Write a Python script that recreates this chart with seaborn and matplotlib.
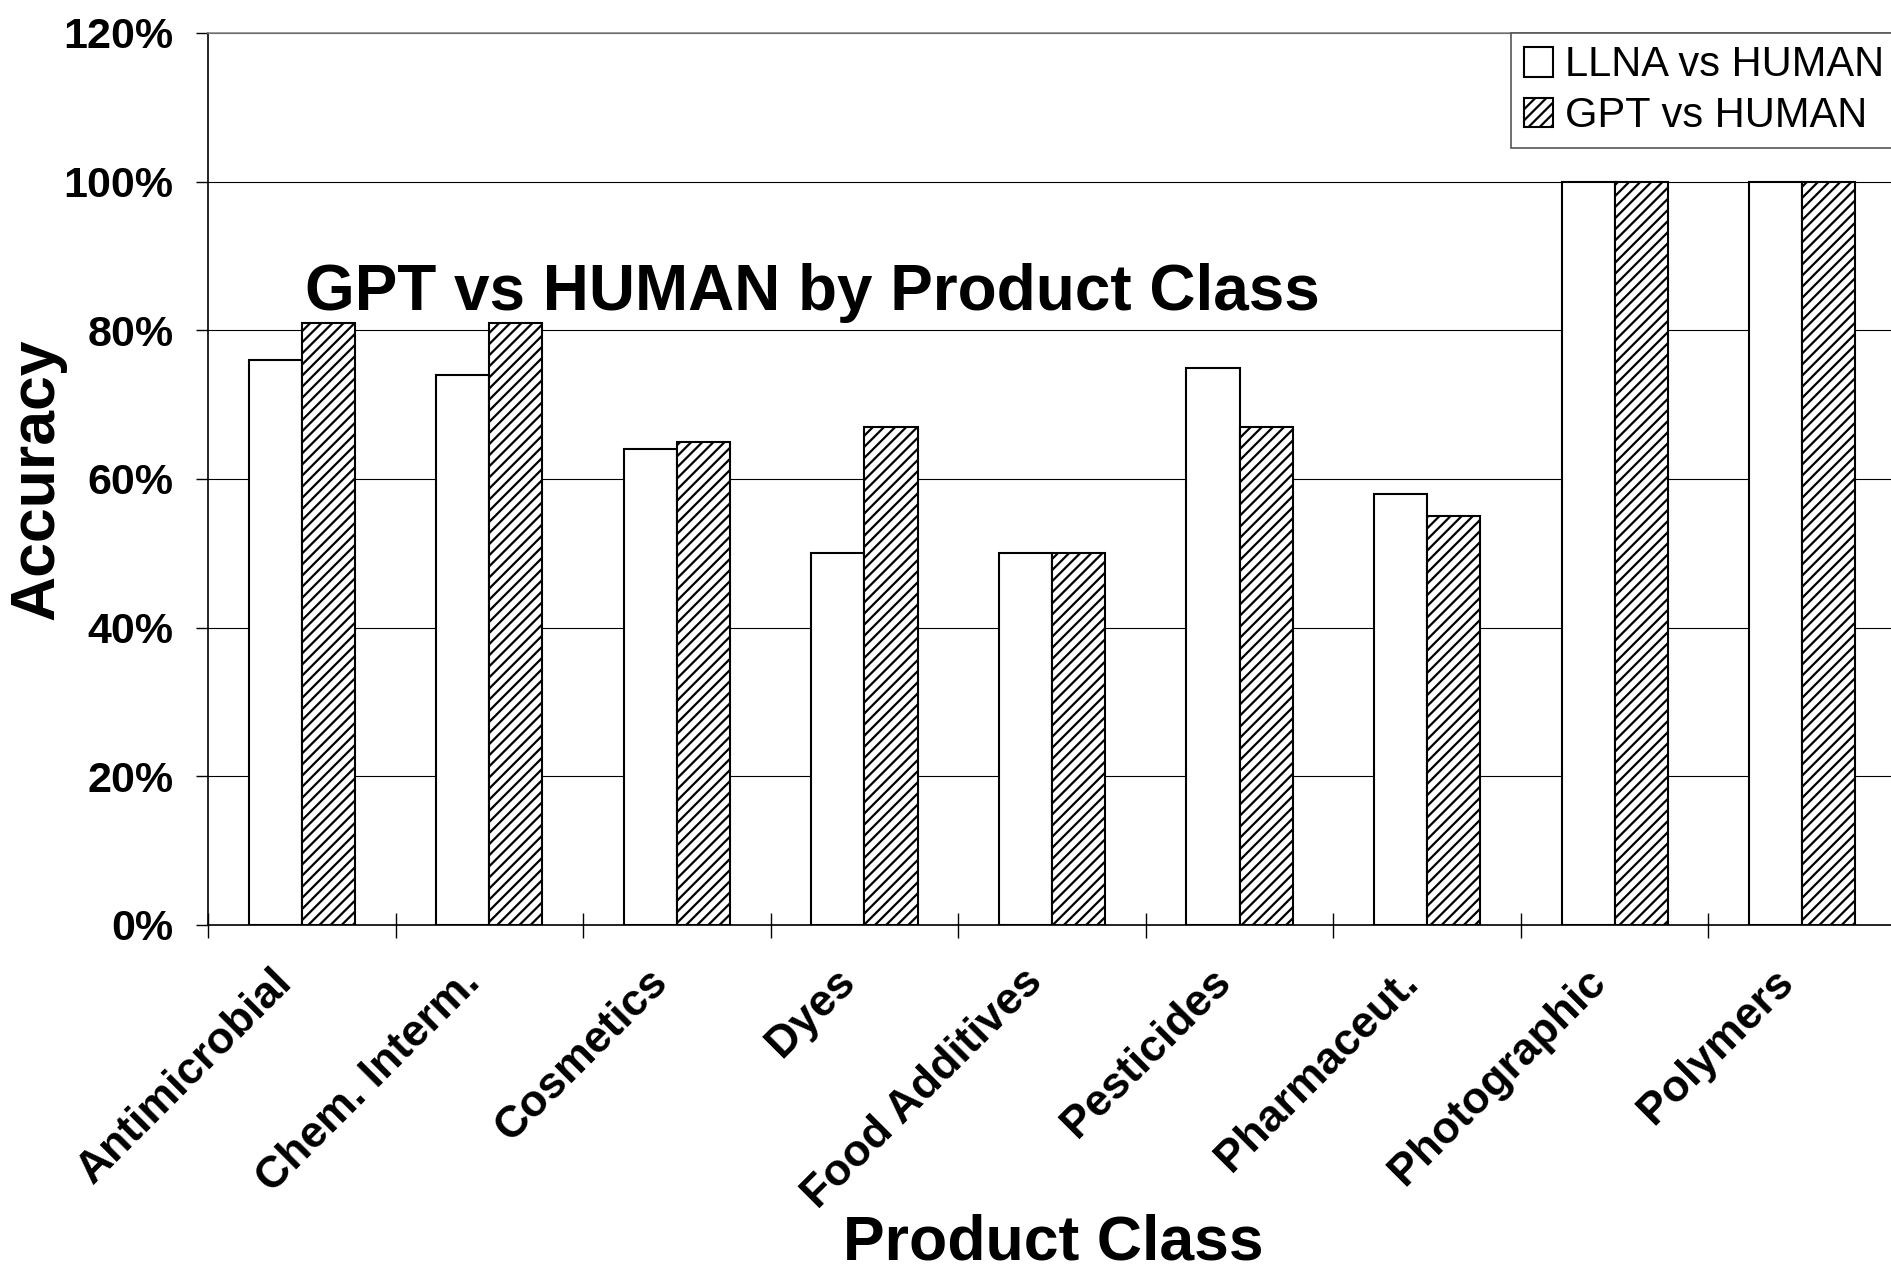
import matplotlib
matplotlib.use("Agg")
import matplotlib.pyplot as plt
import matplotlib.transforms as mtransforms
import seaborn as sns
import pandas as pd
import numpy as np

categories = ["Antimicrobial", "Chem. Interm.", "Cosmetics", "Dyes", "Food Additives",
              "Pesticides", "Pharmaceut.", "Photographic", "Polymers"]
llna_vs_human = [0.76, 0.74, 0.64, 0.50, 0.50, 0.75, 0.58, 1.00, 1.00]
gpt_vs_human = [0.81, 0.81, 0.65, 0.67, 0.50, 0.67, 0.55, 1.00, 1.00]
series_names = ["LLNA vs HUMAN", "GPT vs HUMAN"]
y_ticks = [0, 0.2, 0.4, 0.6, 0.8, 1.0, 1.2]
y_tick_labels = ["0%", "20%", "40%", "60%", "80%", "100%", "120%"]

df = pd.DataFrame({
    "Product Class": categories * 2,
    "Accuracy": llna_vs_human + gpt_vs_human,
    "Series": [series_names[0]] * len(categories) + [series_names[1]] * len(categories),
})

sns.set_theme(style="white")
plt.rcParams["font.family"] = ["Liberation Sans", "DejaVu Sans"]
plt.rcParams["hatch.linewidth"] = 1.6
for k in ["text.color", "axes.labelcolor", "xtick.color", "ytick.color"]:
    plt.rcParams[k] = "black"

W, H = 1891, 1271
fig = plt.figure(figsize=(W / 100, H / 100), dpi=100)
ax = fig.add_axes([208 / W, 1 - 925 / H, (1896 - 208) / W, (925 - 33) / H])

sns.barplot(data=df, x="Product Class", y="Accuracy", hue="Series",
            palette=["white", "white"], edgecolor="black", linewidth=1.5,
            width=0.566, ax=ax, legend=False, errorbar=None)

for patch in ax.containers[1]:
    patch.set_hatch("///")

ax.set_xlim(-0.5, len(categories) - 0.5)
ax.set_ylim(0, 1.2)
ax.set_yticks(y_ticks)
ax.set_yticklabels(y_tick_labels, fontsize=31, fontweight="bold", color="black")
ax.yaxis.grid(True, color="black", linewidth=0.8)
ax.set_axisbelow(True)

for s in ["left", "bottom"]:
    ax.spines[s].set_color("black")
    ax.spines[s].set_linewidth(1.2)
ax.spines["top"].set_color("#888888")
ax.spines["top"].set_linewidth(1.2)
ax.spines["right"].set_visible(False)

ax.tick_params(axis="y", which="major", direction="out", length=9, width=1,
               color="black", pad=16, left=True)
ax.set_xticks(np.arange(len(categories)))
ax.set_xticks(np.arange(len(categories) + 1) - 0.5, minor=True)
ax.tick_params(axis="x", which="major", length=0, pad=26)
ax.tick_params(axis="x", which="minor", direction="inout", length=18, width=1,
               color="black", bottom=True)
ax.set_xticklabels(categories, fontsize=32, fontweight="bold", rotation=45,
                   ha="right", rotation_mode="anchor", color="black")
offset = mtransforms.ScaledTranslation(-30 / 100, 0, fig.dpi_scale_trans)
for lab in ax.get_xticklabels():
    lab.set_transform(lab.get_transform() + offset)

ax.set_ylabel("Accuracy", fontsize=45, fontweight="bold", color="black")
ax.yaxis.set_label_coords(-0.084, 0.5)
ax.set_xlabel("Product Class", fontsize=45, fontweight="bold", color="black")
ax.xaxis.set_label_coords(0.5006, -0.3235)

fig.text(305 / W, 1 - 293 / H, "GPT vs HUMAN by Product Class", fontsize=46,
         fontweight="bold", ha="left", va="center", color="black")

leg = ax.legend(ax.containers, series_names, loc="upper left",
                bbox_to_anchor=(1511 / W, 1 - 33 / H), bbox_transform=fig.transFigure,
                fontsize=30, frameon=True, fancybox=False, framealpha=1,
                edgecolor="#555555", borderaxespad=0, borderpad=0.3,
                handlelength=0.7, handleheight=0.7, handletextpad=0.3,
                labelspacing=0.25)
leg.get_frame().set_linewidth(1.2)
for t in leg.get_texts():
    t.set_color("black")

fig.savefig("out.png", dpi=100, facecolor="white")
